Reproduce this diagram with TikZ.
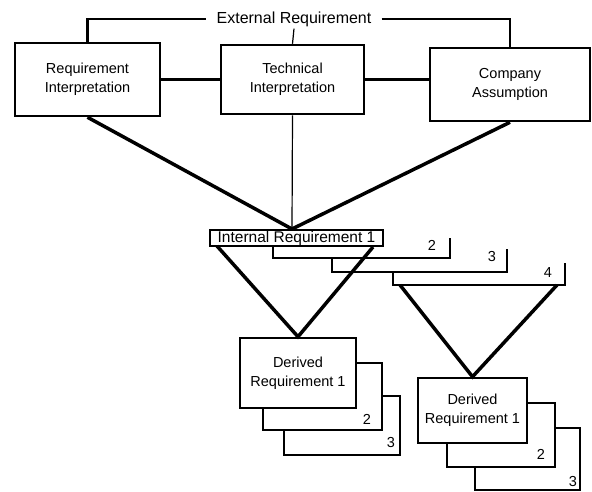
\documentclass[tikz,border=0pt]{standalone}
\usepackage{fontspec}
\setmainfont{Liberation Sans}
\usetikzlibrary{positioning}

\tikzset{
  box/.style={draw, line width=2.5pt, fill=white, align=center, inner sep=0pt,
    font=\fontsize{14.5}{19}\selectfont},
  card/.style={fill=white, inner sep=0pt},
  num/.style={inner sep=0pt, font=\fontsize{14.5}{16}\selectfont},
  link/.style={line width=2.2pt},
  leg/.style={line width=3.5pt},
  thin/.style={line width=1.2pt}
}

\begin{document}
\begin{tikzpicture}[x=1pt, y=-1pt]
\useasboundingbox (0,0) rectangle (592,491);

% top row, the three interpretations
\node[box, minimum width=145pt, minimum height=73pt] (ri) at (87.5,79.5) {Requirement\\Interpretation};
\node[box, minimum width=143pt, minimum height=69pt] (ti) at (292.5,79.5) {Technical\\Interpretation};
\node[box, minimum width=160pt, minimum height=73pt] (ca) at (510,84.5) {Company\\Assumption};

% external requirement over the row
\node[inner xsep=10pt, inner ysep=2pt, font=\fontsize{16}{18}\selectfont] (ext) at (294,19) {External Requirement};
\draw[link] (ri.north) |- (ext.west);
\draw[link] (ext.east) -| (ca.north);
\draw[thin] (ti.north) -- (ext.south);

\draw[link] (ri.east) -- (ti.west);
\draw[link] (ti.east) -- (ti.east -| ca.west);

% down to internal requirement 1
\coordinate (apex) at (292,229);
\draw[leg] (ri.south) -- (apex);
\draw[thin] (ti.south) -- (apex);
\draw[leg] (ca.south) -- (apex);

% internal requirement cards, back to front (open tops)
\node[card, minimum width=172pt, minimum height=22pt] (ir4) at (479,274) {};
\draw[link] (ir4.north west) -- (ir4.south west) -- (ir4.south east) -- (ir4.north east);
\node[num, above left=8pt and 13pt of ir4.south east] (n4) {4};

\node[card, minimum width=175pt, minimum height=23pt] (ir3) at (419.5,260.5) {};
\draw[link] (ir3.north west) -- (ir3.south west) -- (ir3.south east) -- (ir3.north east);
\node[num, above left=10pt and 11pt of ir3.south east] (n3) {3};

\node[card, minimum width=177pt, minimum height=20pt] (ir2) at (361.5,248) {};
\draw[link] (ir2.north west) -- (ir2.south west) -- (ir2.south east) -- (ir2.north east);
\node[num, above left=8pt and 14pt of ir2.south east] (n2) {2};

\node[box, line width=1.8pt, font=\fontsize{15.5}{17}\selectfont,
  minimum width=173pt, minimum height=16pt] (ir1) at (296.5,238) {Internal Requirement 1};

% legs to the derived requirements
\coordinate (ir1l) at (217,246);
\coordinate (ir1r) at (373,247);
\coordinate (ir4l) at (400,285);
\coordinate (ir4r) at (557,285);

% left stack of derived requirements
\node[box, minimum width=116pt, minimum height=59pt] (dl3) at (342,425.5) {};
\node[num, above left=8pt and 6pt of dl3.south east] (dl3n) {3};
\node[box, minimum width=119pt, minimum height=67pt] (dl2) at (322.5,396.5) {};
\node[num, above left=7pt and 12pt of dl2.south east] (dl2n) {2};
\node[box, minimum width=116pt, minimum height=70pt] (dl1) at (298,373) {Derived\\Requirement 1};

% right stack of derived requirements
\node[box, minimum width=105pt, minimum height=62pt] (dr3) at (527.5,459) {};
\node[num, above left=4pt and 4pt of dr3.south east] (dr3n) {3};
\node[box, minimum width=108pt, minimum height=64pt] (dr2) at (501,435) {};
\node[num, above left=9pt and 11pt of dr2.south east] (dr2n) {2};
\node[box, minimum width=109pt, minimum height=65pt] (dr1) at (472.5,410.5) {Derived\\Requirement 1};

\draw[leg] (ir1l) -- (dl1.north) -- (ir1r);
\draw[leg] (ir4l) -- (dr1.north) -- (ir4r);

\end{tikzpicture}
\end{document}
